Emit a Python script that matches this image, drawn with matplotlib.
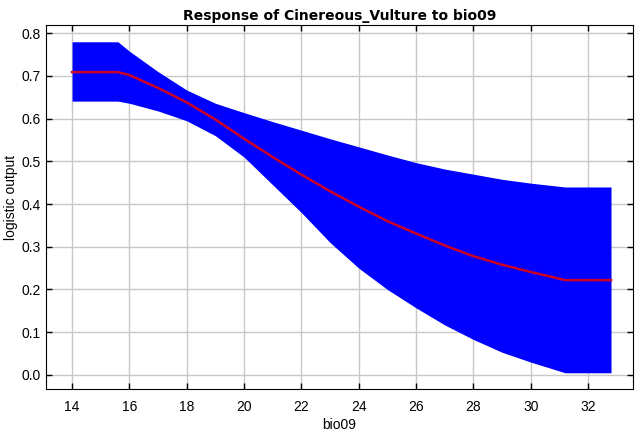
import matplotlib
matplotlib.use("Agg")
import matplotlib.pyplot as plt
import numpy as np

plt.rcParams['font.family'] = ['Liberation Sans', 'DejaVu Sans']

# response curve
bio09 = [14, 15.6, 16, 17, 18, 19, 20, 21, 22, 23, 24, 25, 26, 27, 28, 29, 30, 31.2, 32.8]
mean = [0.709, 0.709, 0.702, 0.672, 0.638, 0.598, 0.553, 0.51, 0.469, 0.43, 0.394,
        0.36, 0.331, 0.303, 0.278, 0.258, 0.241, 0.222, 0.222]
upper = [0.78, 0.78, 0.758, 0.71, 0.667, 0.636, 0.614, 0.593, 0.573, 0.553, 0.534,
         0.515, 0.497, 0.482, 0.47, 0.458, 0.449, 0.44, 0.44]
lower = [0.641, 0.641, 0.636, 0.618, 0.595, 0.56, 0.51, 0.445, 0.38, 0.31, 0.25,
         0.2, 0.157, 0.117, 0.083, 0.053, 0.03, 0.005, 0.005]

xticks = np.arange(14, 33, 2)
yticks = np.arange(0, 0.81, 0.1)

fig = plt.figure(figsize=(6.35, 4.33), dpi=100)
ax = fig.add_axes([0.0724, 0.1016, 0.9246, 0.8404])

ax.fill_between(bio09, lower, upper, color='#0000ff', linewidth=0, zorder=2)
ax.plot(bio09, mean, color='#cc0026', linewidth=1.8, zorder=3)

ax.set_xlim(13.09, 33.57)
ax.set_ylim(-0.033, 0.819)
ax.set_xticks(xticks)
ax.set_yticks(yticks)
ax.set_yticklabels(['%.1f' % v for v in yticks])
ax.grid(True, color='#c8c8c8', linewidth=1, zorder=0)
ax.set_axisbelow(True)
ax.tick_params(direction='in', length=4, width=1, top=True, right=True,
               labelsize=10)
ax.tick_params(axis='x', pad=8)
ax.tick_params(axis='y', pad=4)

ax.set_title('Response of Cinereous_Vulture to bio09', fontsize=10,
             fontweight='bold', family='DejaVu Sans', pad=4)
ax.set_xlabel('bio09', fontsize=10, labelpad=3)
ax.set_ylabel('logistic output', fontsize=10)
ax.yaxis.set_label_coords(-0.048, 0.526)

fig.savefig('out.png', dpi=100)
